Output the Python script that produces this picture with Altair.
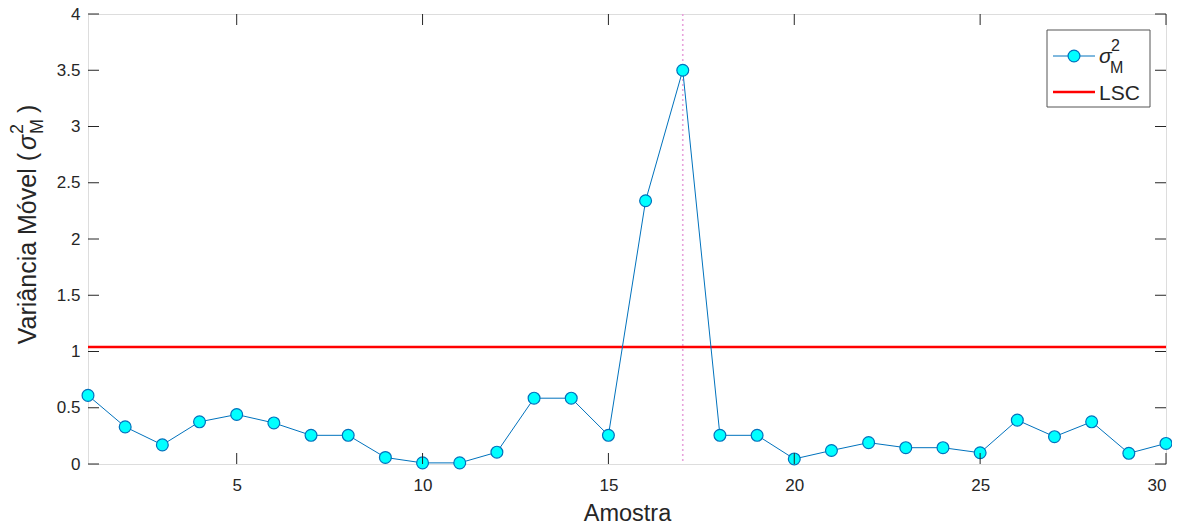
import altair as alt
import pandas as pd

# ---- data ----
amostra = list(range(1, 31))
variancia = [0.61, 0.33, 0.17, 0.375, 0.44, 0.365, 0.255, 0.255, 0.058, 0.01,
             0.01, 0.105, 0.585, 0.585, 0.255, 2.34, 3.50, 0.255, 0.255, 0.045,
             0.12, 0.19, 0.145, 0.145, 0.10, 0.39, 0.243, 0.375, 0.095, 0.183]
lsc = [1.04]
marcador = [17]
xticks = [5, 10, 15, 20, 25, 30]
yticks = [0, 0.5, 1, 1.5, 2, 2.5, 3, 3.5, 4]

W, H = 1078, 450
FONT = "Liberation Sans"
AX = "#262626"
BLUE = "#0072BD"
CYAN = "#00FFFF"

df = pd.DataFrame({"Amostra": amostra, "var": variancia})
xs = alt.Scale(domain=[1, 30], nice=False, zero=False)
ys = alt.Scale(domain=[0, 4], nice=False, zero=False)

base_x = alt.X("Amostra:Q", scale=xs,
               axis=alt.Axis(values=xticks, ticks=False, domain=False, grid=False,
                             labelPadding=13, title="Amostra", titlePadding=8,
                             labelFontSize=17, titleFontSize=23.5, labelFont=FONT,
                             titleFont=FONT, labelColor=AX, titleColor=AX,
                             titleFontWeight="normal", format="d"))
base_y = alt.Y("var:Q", scale=ys,
               axis=alt.Axis(values=yticks, ticks=False, domain=False, grid=False,
                             labelPadding=8, title=None, labelFontSize=17,
                             labelFont=FONT, labelColor=AX, format="~g"))

vline = alt.Chart(pd.DataFrame({"x": marcador})).mark_rule(
    color="#E8A2DC", strokeWidth=1.6, strokeDash=[2, 3]
).encode(x=alt.X("x:Q", scale=xs))

lsc_rule = alt.Chart(pd.DataFrame({"y": lsc})).mark_rule(
    color="#FF0000", strokeWidth=2.6
).encode(y=alt.Y("y:Q", scale=ys))

line = alt.Chart(df).mark_line(color=BLUE, strokeWidth=1).encode(x=base_x, y=base_y)
pts = alt.Chart(df).mark_point(
    filled=False, fill=CYAN, fillOpacity=1, stroke=BLUE, strokeWidth=1.2,
    size=140, shape="circle", opacity=1
).encode(x=alt.X("Amostra:Q", scale=xs), y=alt.Y("var:Q", scale=ys))

# inward ticks (MATLAB style, box on)
xt = pd.DataFrame({"v": xticks})
yt = pd.DataFrame({"v": yticks})
tk = dict(color=AX, strokeWidth=1)
xb = alt.Chart(xt).mark_rule(**tk).encode(x=alt.X("v:Q", scale=xs), y=alt.value(H), y2=alt.value(H - 11))
xtp = alt.Chart(xt).mark_rule(**tk).encode(x=alt.X("v:Q", scale=xs), y=alt.value(0), y2=alt.value(11))
yl = alt.Chart(yt).mark_rule(**tk).encode(y=alt.Y("v:Q", scale=ys), x=alt.value(0), x2=alt.value(11))
yr = alt.Chart(yt).mark_rule(**tk).encode(y=alt.Y("v:Q", scale=ys), x=alt.value(W), x2=alt.value(W - 11))

def txt(s, x, y, size, align="left", angle=0, italic=False, baseline="alphabetic"):
    kw = dict(font=FONT, fontSize=size, color=AX, align=align, baseline=baseline)
    if angle:
        kw["angle"] = angle
    if italic:
        kw["fontStyle"] = "italic"
    return alt.Chart(pd.DataFrame({"t": [s]})).mark_text(**kw).encode(
        text="t:N", x=alt.value(x), y=alt.value(y))

# y-axis title with sigma^2_M
ytitle = [
    txt("Variância Móvel (", -52, 139, 25, align="right", angle=270),
    txt("σ", -52, 136, 25, align="left", angle=270, italic=True),
    txt("2", -65, 120, 18, align="left", angle=270),
    txt("M", -45, 120, 18, align="left", angle=270),
    txt(")", -52, 99, 25, align="left", angle=270),
]

# legend
leg_box = alt.Chart(pd.DataFrame({"a": [0]})).mark_rect(
    fill="white", stroke="#555555", strokeWidth=1
).encode(x=alt.value(959), x2=alt.value(1062), y=alt.value(16), y2=alt.value(93))
leg_l1 = alt.Chart(pd.DataFrame({"a": [0]})).mark_rule(color=BLUE, strokeWidth=1).encode(
    x=alt.value(965), x2=alt.value(1007), y=alt.value(42))
leg_m1 = alt.Chart(pd.DataFrame({"a": [0]})).mark_point(
    filled=False, fill=CYAN, fillOpacity=1, stroke=BLUE, strokeWidth=1.2, size=140,
    shape="circle", opacity=1).encode(x=alt.value(986), y=alt.value(42))
leg_l2 = alt.Chart(pd.DataFrame({"a": [0]})).mark_rule(color="#FF0000", strokeWidth=2.6).encode(
    x=alt.value(965), x2=alt.value(1007), y=alt.value(78))
leg_txt = [
    txt("σ", 1011, 49, 21, italic=True),
    txt("2", 1023, 37, 16),
    txt("M", 1022, 59, 16),
    txt("LSC", 1011, 86, 21),
]

chart = alt.layer(
    vline, lsc_rule, line, pts, xb, xtp, yl, yr, *ytitle,
    leg_box, leg_l1, leg_m1, leg_l2, *leg_txt
).properties(
    width=W, height=H,
    autosize=alt.AutoSizeParams(type="none"),
    padding={"left": 80, "top": 6, "right": 6, "bottom": 62},
).configure_view(stroke=AX, strokeWidth=1).configure(background="white")

chart.save("out.html", embed_options={"renderer": "svg", "actions": False})
